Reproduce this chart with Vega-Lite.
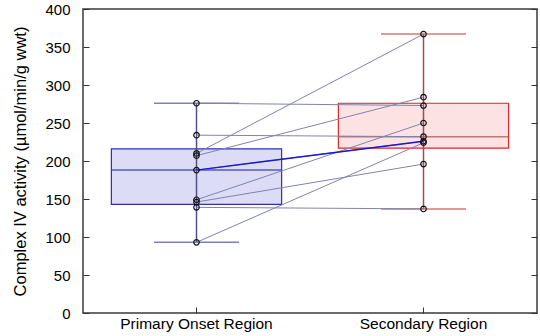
{
  "$schema": "https://vega.github.io/schema/vega-lite/v6.json",
  "width": 454,
  "height": 304,
  "autosize": {"type": "none"},
  "padding": {"left": 83, "top": 9, "right": 3, "bottom": 23},
  "background": "white",
  "config": {
    "view": {"stroke": "#3a3a3a", "strokeWidth": 1.5},
    "font": "Liberation Sans",
    "axis": {"grid": false, "domain": false, "labelFont": "Liberation Sans", "titleFont": "Liberation Sans", "labelColor": "#000", "titleColor": "#000", "tickColor": "#333"}
  },
  "resolve": {"axis": {"y": "independent", "x": "independent"}},
  "datasets": {
    "pts": [
      {"subject": 1, "region": "Primary Onset Region", "value": 276},
      {"subject": 1, "region": "Secondary Region", "value": 273},
      {"subject": 2, "region": "Primary Onset Region", "value": 234},
      {"subject": 2, "region": "Secondary Region", "value": 232},
      {"subject": 3, "region": "Primary Onset Region", "value": 210},
      {"subject": 3, "region": "Secondary Region", "value": 367},
      {"subject": 4, "region": "Primary Onset Region", "value": 207},
      {"subject": 4, "region": "Secondary Region", "value": 284},
      {"subject": 5, "region": "Primary Onset Region", "value": 188},
      {"subject": 5, "region": "Secondary Region", "value": 226},
      {"subject": 6, "region": "Primary Onset Region", "value": 149},
      {"subject": 6, "region": "Secondary Region", "value": 250},
      {"subject": 7, "region": "Primary Onset Region", "value": 146},
      {"subject": 7, "region": "Secondary Region", "value": 196},
      {"subject": 8, "region": "Primary Onset Region", "value": 139},
      {"subject": 8, "region": "Secondary Region", "value": 137},
      {"subject": 9, "region": "Primary Onset Region", "value": 93},
      {"subject": 9, "region": "Secondary Region", "value": 224}
    ],
    "box": [
      {"region": "Primary Onset Region", "lo": 93, "q1": 143, "median": 188, "q3": 216, "hi": 276},
      {"region": "Secondary Region", "lo": 137, "q1": 217, "median": 232, "q3": 276, "hi": 367}
    ]
  },
  "layer": [
    {
      "data": {"name": "box"},
      "mark": {"type": "bar", "width": {"band": 0.75}, "strokeWidth": 1.2},
      "encoding": {
        "x": {"field": "region", "type": "nominal", "scale": {"domain": ["Primary Onset Region", "Secondary Region"], "paddingInner": 0, "paddingOuter": 0},
              "axis": {"title": null, "labelAngle": 0, "labelFontSize": 15.5, "labelPadding": 9, "tickSize": -6, "ticks": true, "tickWidth": 1}},
        "y": {"field": "q1", "type": "quantitative", "scale": {"domain": [0, 400], "nice": false},
              "axis": {"orient": "left", "title": "Complex IV activity (µmol/min/g wwt)", "titleFontSize": 16.5, "titleFontWeight": "normal", "titlePadding": 16, "labelFontSize": 15, "labelPadding": 19, "tickSize": -6, "values": [0,50,100,150,200,250,300,350,400]}},
        "y2": {"field": "q3"},
        "fill": {"condition": {"test": "datum.region === 'Primary Onset Region'", "value": "#dcdcf6"}, "value": "#fde2e4"},
        "stroke": {"condition": {"test": "datum.region === 'Primary Onset Region'", "value": "#3030b0"}, "value": "#d42a2a"}
      }
    },
    {
      "data": {"name": "box"},
      "mark": {"type": "rule", "strokeWidth": 1.5},
      "encoding": {
        "x": {"field": "region", "type": "nominal", "axis": null},
        "y": {"field": "lo", "type": "quantitative", "axis": {"orient": "right", "labels": false, "title": null, "tickSize": -6, "values": [0,50,100,150,200,250,300,350,400]}},
        "y2": {"field": "hi"},
        "stroke": {"condition": {"test": "datum.region === 'Primary Onset Region'", "value": "#50508c"}, "value": "#a84848"}
      }
    },
    {
      "data": {"name": "box"},
      "mark": {"type": "tick", "size": 85, "thickness": 1.5},
      "encoding": {
        "x": {"field": "region", "type": "nominal", "axis": null},
        "y": {"field": "lo", "type": "quantitative", "axis": null},
        "color": {"condition": {"test": "datum.region === 'Primary Onset Region'", "value": "#4848a0"}, "value": "#d03838"}
      }
    },
    {
      "data": {"name": "box"},
      "mark": {"type": "tick", "size": 85, "thickness": 1.5},
      "encoding": {
        "x": {"field": "region", "type": "nominal", "axis": null},
        "y": {"field": "hi", "type": "quantitative", "axis": null},
        "color": {"condition": {"test": "datum.region === 'Primary Onset Region'", "value": "#4848a0"}, "value": "#d03838"}
      }
    },
    {
      "data": {"name": "box"},
      "mark": {"type": "tick", "size": 170, "thickness": 1.5},
      "encoding": {
        "x": {"field": "region", "type": "nominal", "axis": null},
        "y": {"field": "median", "type": "quantitative", "axis": null},
        "color": {"condition": {"test": "datum.region === 'Primary Onset Region'", "value": "#2020b8"}, "value": "#a84848"}
      }
    },
    {
      "data": {"name": "pts"},
      "mark": {"type": "line", "strokeWidth": 1, "color": "#8282ae"},
      "encoding": {
        "x": {"field": "region", "type": "nominal", "axis": null},
        "y": {"field": "value", "type": "quantitative", "axis": null},
        "detail": {"field": "subject", "type": "nominal"}
      }
    },
    {
      "data": {"name": "pts"},
      "transform": [{"filter": "datum.subject === 5"}],
      "mark": {"type": "line", "strokeWidth": 1.5, "color": "#1a1ac8"},
      "encoding": {
        "x": {"field": "region", "type": "nominal", "axis": null},
        "y": {"field": "value", "type": "quantitative", "axis": null}
      }
    },
    {
      "data": {"name": "pts"},
      "mark": {"type": "point", "shape": "circle", "filled": false, "size": 30, "stroke": "#111", "strokeWidth": 1.2, "opacity": 1},
      "encoding": {
        "x": {"field": "region", "type": "nominal", "axis": null},
        "y": {"field": "value", "type": "quantitative", "axis": null}
      }
    }
  ]
}
